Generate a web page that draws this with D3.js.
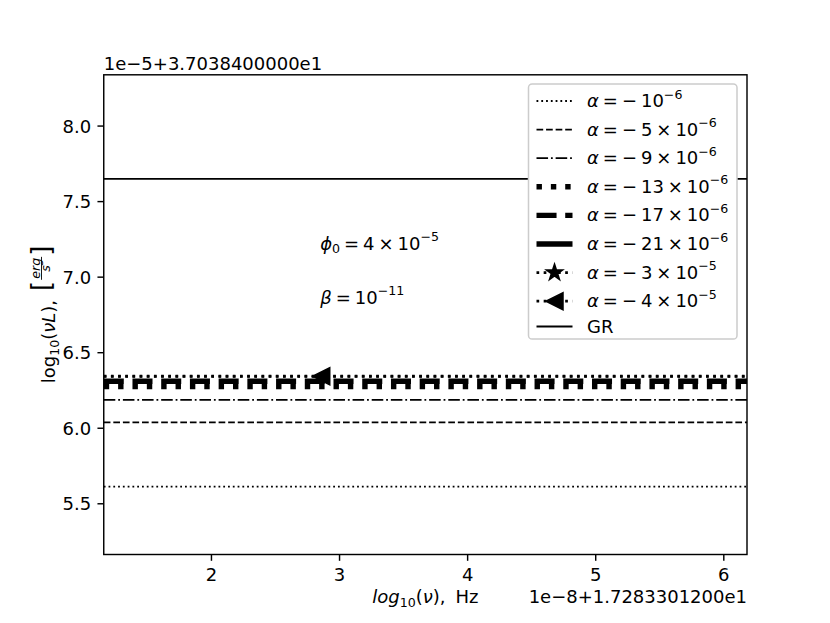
<!DOCTYPE html>
<html><head><meta charset="utf-8">
<script src="https://cdn.jsdelivr.net/npm/d3@7"></script>
<style>
body{margin:0;background:#fff}
svg{display:block}
text{font-family:"DejaVu Sans";fill:#000}
</style>
</head><body>
<svg id="c" width="830" height="623"></svg>
<script>
// ---------------- data ----------------
// x in units of 1e-8 (+1.7283301200e1), y in units of 1e-5 (+3.7038400000e1)
const logNuPoints = [1.163, 6.185];           // x extent of the plotted curves
const xDomain = [1.163, 6.185];
const yDomain = [5.161, 8.336];
const xTicks = [2, 3, 4, 5, 6];
const yTicks = [5.5, 6.0, 6.5, 7.0, 7.5, 8.0];
const alphaCoef = ['1', '5', '9', '13', '17', '21', '3', '4'];
const alphaExp  = ['−6', '−6', '−6', '−6', '−6', '−6', '−5', '−5'];
const logLValues = [5.610, 6.036, 6.185, 6.272, 6.308, null, 6.339, 6.341];
const markerX    = [null, null, null, null, null, null, null, 2.861];
const grValue = 7.647;
const yOffsetText = '1e−5+3.7038400000e1';
const xOffsetText = '1e−8+1.7283301200e1';
const phiAnn  = {x: 2.853, y: 7.178};
const betaAnn = {x: 2.853, y: 6.822};

// ---------------- styles ----------------
const styles = [
  {w: 1.8,  dash: '1.8,2.98'},
  {w: 1.8,  dash: '6.68,2.89'},
  {w: 1.8,  dash: '11.56,2.89,1.8,2.89'},
  {w: 5.42, dash: '5.42,8.94'},
  {w: 5.42, dash: '20.05,8.67'},
  {w: 5.42, dash: null},
  {w: 2.7,  dash: '2.7,4.47', marker: 'star'},
  {w: 2.7,  dash: '2.7,4.47', marker: 'tri'}
];
const FS = 18;

const svg = d3.select('#c');
const M = {l: 103.75, r: 747, t: 74.8, b: 554.5};
const x = d3.scaleLinear().domain(xDomain).range([M.l, M.r]);
const y = d3.scaleLinear().domain(yDomain).range([M.b, M.t]);

// math-ish text helper
function mtext(parent, px, py, segs, fs, anchor) {
  const t = parent.append('text').attr('x', px).attr('y', py)
    .attr('font-size', fs).attr('text-anchor', anchor || 'start');
  let shift = 0;
  segs.forEach(s => {
    const ts = t.append('tspan').text(s.t);
    const target = s.sup ? -0.47 * fs : (s.sub ? 0.2 * fs : 0);
    const dy = target - shift; shift = target;
    if (dy) ts.attr('dy', dy);
    if (s.dx) ts.attr('dx', s.dx * fs);
    if (s.sup || s.sub) ts.attr('font-size', 0.7 * fs);
    if (s.i) ts.attr('font-style', 'italic');
  });
  return t;
}
function alphaSegs(i) {
  const segs = [{t: 'α', i: 1}, {t: '=', dx: 0.22}, {t: '−', dx: 0.22}];
  if (alphaCoef[i] === '1') {
    segs.push({t: '10', dx: 0.22});
  } else {
    segs.push({t: alphaCoef[i], dx: 0.22}, {t: '×', dx: 0.22}, {t: '10', dx: 0.22});
  }
  segs.push({t: alphaExp[i], sup: 1});
  return segs;
}
function starPath(r) {
  const pts = [];
  for (let k = 0; k < 10; k++) {
    const rr = k % 2 === 0 ? r : r * 0.381966;
    const a = -Math.PI / 2 + k * Math.PI / 5;
    pts.push([rr * Math.cos(a), rr * Math.sin(a)]);
  }
  return 'M' + pts.map(p => p.join(',')).join('L') + 'Z';
}
function triPath(h) { return `M${-h},0L${h},${-h}L${h},${h}Z`; }
function drawMarker(g, type, cx, cy) {
  g.append('path').attr('d', type === 'star' ? starPath(8.5) : triPath(8.5))
    .attr('transform', `translate(${cx},${cy})`)
    .attr('fill', '#000').attr('stroke', '#000').attr('stroke-width', 1.5)
    .attr('stroke-linejoin', 'miter');
}

// clip
svg.append('defs').append('clipPath').attr('id', 'clip')
  .append('rect').attr('x', M.l).attr('y', M.t).attr('width', M.r - M.l).attr('height', M.b - M.t);

const plot = svg.append('g').attr('clip-path', 'url(#clip)');
const line = d3.line().x(d => x(d[0])).y(d => y(d[1]));

logLValues.forEach((v, i) => {
  if (v === null) return;
  const st = styles[i];
  plot.append('path').attr('d', line(logNuPoints.map(xv => [xv, v])))
    .attr('fill', 'none').attr('stroke', '#000').attr('stroke-width', st.w)
    .attr('stroke-dasharray', st.dash).attr('stroke-linecap', 'butt');
  if (st.marker && markerX[i] !== null) drawMarker(plot, st.marker, x(markerX[i]), y(v));
});
plot.append('path').attr('d', line(logNuPoints.map(xv => [xv, grValue])))
  .attr('fill', 'none').attr('stroke', '#000').attr('stroke-width', 1.8);

// axes
const ya = svg.append('g').attr('transform', `translate(${M.l},0)`)
  .call(d3.axisLeft(y).tickValues(yTicks).tickFormat(d3.format('.1f')).tickSize(6.3).tickPadding(6.3));
const xa = svg.append('g').attr('transform', `translate(0,${M.b})`)
  .call(d3.axisBottom(x).tickValues(xTicks).tickFormat(d3.format('d')).tickSize(6.3).tickPadding(6.3));
[ya, xa].forEach(a => {
  a.select('.domain').remove();
  a.selectAll('line').attr('stroke', '#000').attr('stroke-width', 1.44);
  a.selectAll('text').attr('font-size', FS).attr('font-family', 'DejaVu Sans').attr('fill', '#000');
});
ya.selectAll('text').attr('dy', '0.36em');
xa.selectAll('text').attr('dy', '0.76em');

svg.append('rect').attr('x', M.l).attr('y', M.t).attr('width', M.r - M.l).attr('height', M.b - M.t)
  .attr('fill', 'none').attr('stroke', '#000').attr('stroke-width', 1.44);

// offset texts
svg.append('text').attr('x', M.l).attr('y', 70).attr('font-size', FS).text(yOffsetText);
svg.append('text').attr('x', M.r).attr('y', 603).attr('font-size', FS).attr('text-anchor', 'end').text(xOffsetText);

// x label
mtext(svg, (M.l + M.r) / 2, 603, [
  {t: 'log', i: 1}, {t: '10', sub: 1}, {t: '('}, {t: 'ν', i: 1}, {t: '),'}, {t: 'Hz', dx: 0.55}
], FS, 'middle');

// y label (rotated)
const ylg = svg.append('g').attr('transform', 'translate(55,314.5) rotate(-90)');
const yin = ylg.append('g');
const t1 = mtext(yin, 0, 0, [{t: 'log'}, {t: '10', sub: 1}, {t: '('}, {t: 'νL', i: 1}, {t: '),'}], FS);
let cx = t1.node().getBBox().width + 9;
const lb = yin.append('text').attr('x', cx).attr('y', -5.5).attr('font-size', 26).text('[');
cx += lb.node().getBBox().width + 1;
const fe = yin.append('text').attr('y', -15).attr('font-size', 0.7 * FS).attr('font-style', 'italic').text('erg');
const fs_ = yin.append('text').attr('y', -5).attr('font-size', 0.7 * FS).attr('font-style', 'italic').text('s');
const we = fe.node().getBBox().width, ws = fs_.node().getBBox().width;
const fw = Math.max(we, ws) + 2;
fe.attr('x', cx + (fw - we) / 2);
fs_.attr('x', cx + (fw - ws) / 2);
yin.append('line').attr('x1', cx).attr('x2', cx + fw).attr('y1', -13.5).attr('y2', -13.5)
  .attr('stroke', '#000').attr('stroke-width', 0.9);
cx += fw + 1;
const rb = yin.append('text').attr('x', cx).attr('y', -5.5).attr('font-size', 26).text(']');
cx += rb.node().getBBox().width;
yin.attr('transform', `translate(${-cx / 2},0)`);

// annotations
mtext(svg, x(phiAnn.x), y(phiAnn.y), [
  {t: 'ϕ', i: 1}, {t: '0', sub: 1}, {t: '=', dx: 0.22}, {t: '4', dx: 0.22}, {t: '×', dx: 0.22},
  {t: '10', dx: 0.22}, {t: '−5', sup: 1}
], FS);
mtext(svg, x(betaAnn.x), y(betaAnn.y), [
  {t: 'β', i: 1}, {t: '=', dx: 0.22}, {t: '10', dx: 0.22}, {t: '−11', sup: 1}
], FS);

// legend
const lg = svg.append('g');
lg.append('rect').attr('x', 528.5).attr('y', 84).attr('width', 208.5).attr('height', 255)
  .attr('rx', 3.6).attr('fill', '#fff').attr('stroke', '#cccccc').attr('stroke-width', 1.5);
const rowY = i => (i < 8 ? 101 + 28.6 * i : 326.5);
styles.forEach((st, i) => {
  const ry = rowY(i);
  lg.append('line').attr('x1', 536.5).attr('x2', 572.5).attr('y1', ry).attr('y2', ry)
    .attr('stroke', '#000').attr('stroke-width', st.w).attr('stroke-dasharray', st.dash);
  if (st.marker) drawMarker(lg, st.marker, 554.5, ry);
  mtext(lg, 587, ry + 6, alphaSegs(i), FS);
});
lg.append('line').attr('x1', 536.5).attr('x2', 572.5).attr('y1', rowY(8)).attr('y2', rowY(8))
  .attr('stroke', '#000').attr('stroke-width', 1.8);
lg.append('text').attr('x', 587).attr('y', rowY(8) + 6).attr('font-size', FS).text('GR');
</script>
</body></html>
